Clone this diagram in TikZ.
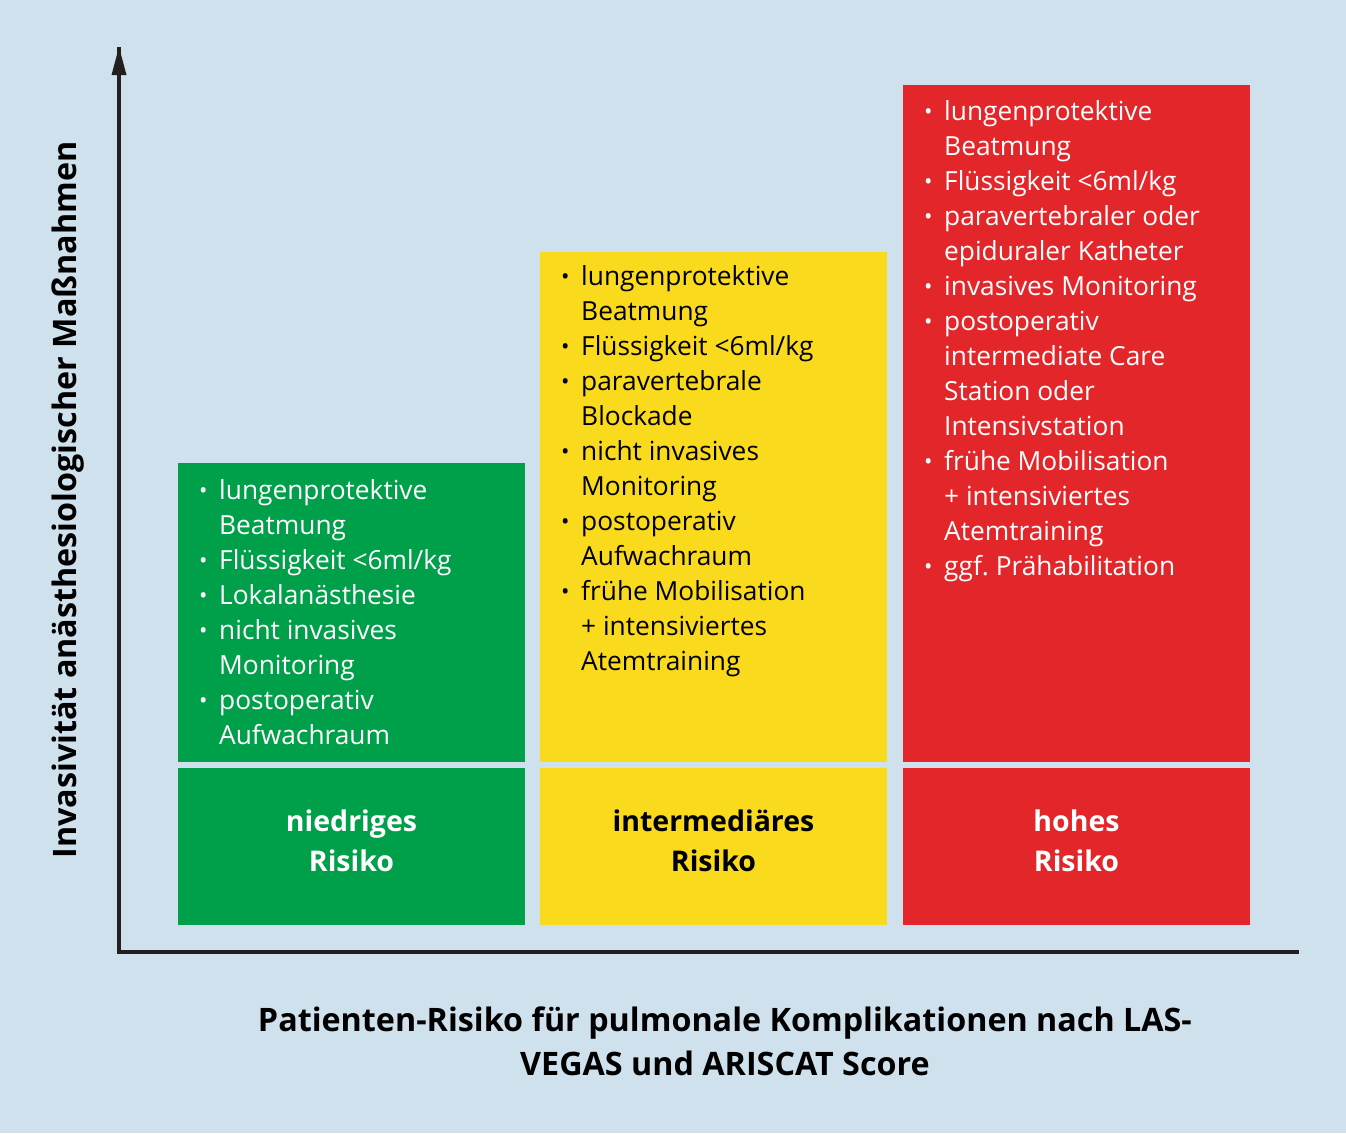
\documentclass[tikz,border=0pt]{standalone}
\usepackage{fontspec}
\setmainfont{Open Sans}
\frenchspacing
\definecolor{bg}{HTML}{CFE1EC}
\definecolor{grn}{HTML}{00A04A}
\definecolor{ylw}{HTML}{FADA1C}
\definecolor{rd}{HTML}{E3262A}
\definecolor{axis}{HTML}{231F20}
\newcommand{\itm}[1]{\makebox[20pt][l]{\raisebox{1pt}{\scalebox{0.85}{•}}}#1}
\newcommand{\cnt}[1]{\hspace*{20pt}#1}
\begin{document}
\begin{tikzpicture}[x=1pt,y=-1pt,
  items/.style={anchor=base west,inner sep=0,align=left,font=\fontsize{26.3}{35}\selectfont},
  risk/.style={inner sep=0,align=center,font=\bfseries\fontsize{28.5}{40}\selectfont},
  axlab/.style={inner sep=0,align=center,font=\bfseries\fontsize{32.3}{44}\selectfont},
  axisline/.style={line width=4pt,draw=axis}]
\fill[bg] (0,0) rectangle (1346,1133);
\useasboundingbox (0,0) rectangle (1346,1133);
% boxes
\fill[grn] (178,463) rectangle (525,762);
\fill[grn] (178,768) rectangle (525,925);
\fill[ylw] (540,252) rectangle (887,762);
\fill[ylw] (540,768) rectangle (887,925);
\fill[rd] (903,85) rectangle (1250,762);
\fill[rd] (903,768) rectangle (1250,925);
% axes
\coordinate (O) at (119,952);
\coordinate (Ytip) at (119,47);
\coordinate (Xend) at (1299,952);
\draw[axisline] (Ytip) -- (O) -- (Xend);
\fill[axis] (119,47) -- (126.5,75) -- (111.5,75) -- cycle;
% items (anchored at baseline of last line)
\node[items,text=white] (gitems) at (199,744) {%
\itm{lungenprotektive}\\
\cnt{Beatmung}\\
\itm{Flüssigkeit <6ml/kg}\\
\itm{Lokalanästhesie}\\
\itm{nicht invasives}\\
\cnt{Monitoring}\\
\itm{postoperativ}\\
\cnt{Aufwachraum}};
\node[items,text=black] (yitems) at (561,670) {%
\itm{lungenprotektive}\\
\cnt{Beatmung}\\
\itm{Flüssigkeit <6ml/kg}\\
\itm{paravertebrale}\\
\cnt{Blockade}\\
\itm{nicht invasives}\\
\cnt{Monitoring}\\
\itm{postoperativ}\\
\cnt{Aufwachraum}\\
\itm{frühe Mobilisation}\\
\cnt{+ intensiviertes}\\
\cnt{Atemtraining}};
\node[items,text=white] (ritems) at (924,575) {%
\itm{lungenprotektive}\\
\cnt{Beatmung}\\
\itm{Flüssigkeit <6ml/kg}\\
\itm{paravertebraler oder}\\
\cnt{epiduraler Katheter}\\
\itm{invasives Monitoring}\\
\itm{postoperativ}\\
\cnt{intermediate Care}\\
\cnt{Station oder}\\
\cnt{Intensivstation}\\
\itm{frühe Mobilisation}\\
\cnt{+ intensiviertes}\\
\cnt{Atemtraining}\\
\itm{ggf. Prähabilitation}};
% risk labels
\node[risk,text=white] (glab) at (351.5,841) {niedriges\\Risiko};
\node[risk,text=black] (ylab) at (713.5,841) {intermediäres\\Risiko};
\node[risk,text=white] (rlab) at (1076.5,841) {hohes\\Risiko};
% axis labels
\node[axlab,rotate=90,text=black] (ylabel) at (68,500) {Invasivität anästhesiologischer Maßnahmen};
\node[axlab,text=black] (xlabel) at (725,1041) {Patienten-Risiko für pulmonale Komplikationen nach LAS-\\VEGAS und ARISCAT Score};
\end{tikzpicture}
\end{document}
